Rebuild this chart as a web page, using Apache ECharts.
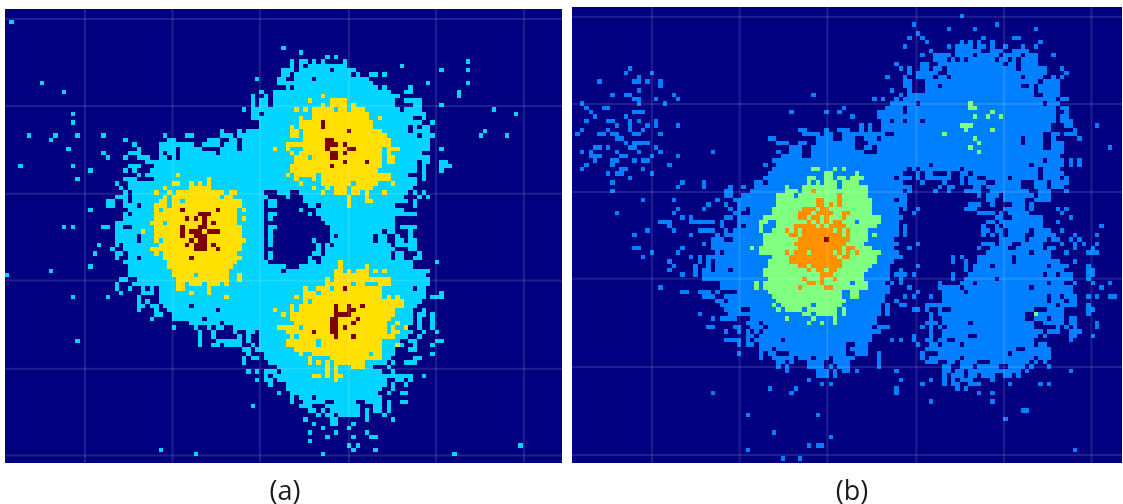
<!DOCTYPE html>
<html><head><meta charset="utf-8">
<script src="https://cdn.jsdelivr.net/npm/echarts@6/dist/echarts.min.js"></script>
<style>html,body{margin:0;padding:0;background:#fff}#c{width:1123px;height:504px}</style>
</head><body><div id="c"></div>
<script>
// Each entry: "row:col-col,col,..." – occupied cells of the 2-D histogram, per count level.
const captions = ['(a)', '(b)'];
const levelColors = { 1: '#0080FF', 2: '#00D4FF', 3: '#80FF80', 4: '#FFE000', 5: '#FF9000', 6: '#800000' };
const colsA = 127, rowsA = 104, colsB = 126, rowsB = 104;
const gridColsA = [18.24, 38.2, 58.1, 78.4, 98.3, 118.3];
const gridRowsA = [1.8, 21.7, 41.8, 61.7, 81.9, 101.8];
const gridColsB = [18.5, 38.6, 58.7, 79.1, 99.2, 119.2];
const gridRowsB = [2.7, 22.6, 42.7, 62.5, 82.6, 102.7];

const lowA = [
"2:1","8:63","9:67","10:73,75","11:65,67-68,70,72,77,105","12:65,67,69-77,90","13:63-65,67-73,75-79,99,105",
"14:63-64,66-78,80,83-84,86","15:57,62-63,66-69,71-82","16:8,62-83,96,105","17:64,66-84,86,92","18:13,58,61-87,91-92,103",
"19:56,59,61-89,103","20:56,58-59,61-88,91-94","21:56,58-59,61-88,93-94,99","22:54,56-60,61-89,91-94,111","23:15,56-57,59-95,116",
"24:56-92,95","25:15,58-94,97","26:58-91,93,95-96","27:49,53,55-91,93-96,109","28:5,11,16,22,36,41-42,49-51,53-93,95-97,108,114",
"29:10,27,37-38,46-48,51-52,54-96","30:29,35-42,45-48,50-52,54-96","31:14,30,35-38,40-44,49-52,54-96,99","32:22,28-30,35,37-38,40-47,49-94",
"33:23,27,30-32,35-36,38,40-96","34:32-93,95-96,99-100","35:3,15,28-30,34-93,95,99-101","36:19,27,29,33-93,95,99","37:30,32-91,95",
"38:16,27-29,34-93,95","39:25,28-93","40:26,28-92","41:27,29-58,62-64,67-91,93,95","42:25-27,29-59,64,68-90,94,96",
"43:23-24,27,29-58,60-61,68-91,93","44:23-24,27-29,31-58,60-61,69-70,72-88,93","45:19,28-58,67,71-90","46:27,29-58,60-61,69,71-93",
"47:27-58,60,72-88","48:25-58,73-88","49:13,15,22-23,25-26,29-58,60-61,74-88,90-93","50:25-58,60,74-85,87-88,92",
"51:25-29,31-58,60,74,76-83,85-86,89,92","52:25-29,31-58,60,70,74-83,85-86,89-90,92-93","53:21,25,27-58,60,71,73,75-87,89-93",
"54:24,27-58,71,73-88,92-93","55:20,25-26,28-58,60,70-71,73-87,89-90,94","56:25,28-29,31-58,60,69,72-87,89-90,93-94",
"57:27-59,69-70,72-92,98","58:19,28-63,67-92","59:10,28-62,64-96","60:0,28-95","61:26-27,30-96","62:25,29-96",
"63:25,28,31,33,35-92,94-95","64:26,31-33,35-95,99","65:15,23,30,35-95,97-99","66:30,32,35-94","67:30-31,33-34,36-41,43-93",
"68:30,34,37-47,49-92,95","69:34-35,38-92,94-95,97","70:33,38-44,46-92,94,97","71:42-48,50-92,94,97","72:38,43,46,48-49,52-91,94,97",
"73:44,47,52,55-56,58-92,95,98","74:44,47,53,55,58-91,94","75:16,44,48-53,55,58-89,92-93,98-99","76:44,47-48,50-53,56,58-90,93,97",
"77:54-55,57-88,92-93","78:55,59-88,97","79:54,56-57,59-87,93-94","80:54,60-86,88,91-93","81:62-83,87","82:55,57,59-61,63-85,88",
"83:59,61-92,95","84:57,59-60,62-86,89-90,92","85:60,64-86,88,91","86:64-85,88","87:62,65-84,87,90-91","88:65,67-69,71-85",
"89:65,68-72,75-79,82-85,87,90-91","90:56,67-69,73-80,84-85,87","91:69-70,72,74-80,82,84-85,87","92:71,73-74,76-80,82,86",
"93:68,74-75,82,88","94:70,74-75,79","95:72,78","96:69,75,82","97:73,79,83-84","98:69","99:78,80,117","100:35,79,84","101:43,72,102"
];
const lowALeftStrays = ["23:15","25:15","28:5","35:3","35:15","36:19","38:16","45:19","49:13","58:19","59:10","60:0","65:15","65:23","75:16"];
const midA = [
"19:72","20:69,74-77","21:72,74-77,79","22:66,68,70-74,76-77,79-81","23:70-82","24:67,70-82,85","25:67-83","26:65,67-83","27:65-66,68-85",
"28:65-66,68-86","29:68-87","30:64-87","31:61,64,68-85,87-89","32:65,67-85,87","33:66-68,70-85,87-88","34:66-85,87-88","35:65-85","36:65-84",
"37:39,64,66-70,72-87","38:46,66,70,72-87","39:38-39,42,44,46,67,72-78,80-84,88","40:36,42-46,70,73,75-77,79-83","41:34,37,39-49,51-52,72,75-77,79-80,82,86",
"42:36,38-48,50-51,78,82","43:35-36,38-39,41-53,78,82-83","44:34-36,38-53,78","45:34,36-52,54","46:34-52","47:34-52,54","48:33-35,37-52","49:34-53",
"50:31,34-53","51:34-53","52:34,36-54","53:35-53","54:33-53","55:34,36-52","56:36-53","57:37-52,76","58:37-51,76,82","59:38-50,75-76,78,80-82,84,86",
"60:38-42,44-50,53,75-82","61:39-50,53,73,75-87","62:39-40,42-44,46-48,50,46,73-78,80-81,85-87","63:39-40,46,68,71-73,75-85","64:42,46,68-70,72-85",
"65:50,66,68-85,87,89","66:68,70-90","67:65,67-90","68:61,65,67-88","69:63,65-88","70:65-87","71:66-86,89","72:62-66,68-86,88,91","73:64-86,88-89",
"74:65,67-86,87-88","75:64-70,72-85","76:64-70,72-85,89","77:66-85","78:67,70-82,84-85","79:69,74-85","80:69,71,73,75-81","81:73,75,79-81","82:73,75","83:70-71,73,75-76","84:75"
];
const highA = [
"25:72","26:72","27:78","29:73-74","30:73-75,77","31:73,78-79","32:74-75,77","33:74-75","34:77,82","35:74",
"45:40,48","46:44-46","47:41,43,45","48:45,47","49:40,44-45","50:40,42,43-44,46-48","51:40,43-45","52:42,44-45","53:41,43-45,47","54:43-45,48","56:42",
"63:77","67:75,78,81","68:75,78-79","69:75-78","70:74-75,80","71:74-75,79","72:74-75,77","73:70,74-75","74:75,79"
];

const lowB = [
"2:89","4:78,97","5:86,92,106","6:79","7:77,80,94,101-102","8:81,89,91,93,96,107","9:76,86,88-91,93-94,96,99,103,106","10:82,88-93,96-98,101-104",
"11:80,83-86,88-91,93-97,99-102,104-106,110","12:83-85,87,89,91-96,98-99,101,103-106","13:74,80-81,84-98,100-101,103-106","14:13,75,77,80-81,83-84,86-101,103-108,112",
"15:12,18,77,79-83,86-108,113","16:15,72,76,79-82,84-85,87-102,104-107,110,112","17:6,14-15,17,20,76-77,81-106,108-111","18:20,76-77,81-83,85-102,105,107-111",
"19:15,73,77,81-105,107-111","20:9,12-13,23,55,75,77-105,108-111","21:14-15,19,24,69,71,74,76-110,112-113","22:2,15,21,73-78,80-107,109-111",
"23:3,7-8,62,72-75,77-110,112-113","24:4,14-16,50,58,61,70-75,77-110,113","25:5,12,64,70-110,112-113","26:3,8-9,13,15,19,71-72,74-75,77-79,81-110,112-114",
"27:10,13,17,19,24,66,68,71-109,113-114,120","28:2,8,13,16,52-53,58,61-63,66,68,71-109,115","29:1,6-7,9-10,14-15,20,53-56,58-59,62-71,74-107,110-111,113-115",
"30:10-11,45-46,56-59,62-64,67-69,71-102,104-107,110,116","31:12,14-17,47-49,52-53,56-64,68-102,104-107,110-112","32:5-6,8,13-14,19,50-52,55-64,67-68,70-107,110-112,123",
"33:2,4,10,15,20,32,47,50-52,55-66,70-112","34:4-6,11-12,18,24,48-52,55-111","35:5,9-10,14,16-17,46-107,109-112,114,116","36:3,9,22,44,47-81,83-104,106-112,114,116",
"37:2,11-12,16,46-76,78,80-88,90-106,108-111","38:8,10-11,18,45-75,79,81-82,86,89-90,92-106,108-112","39:13,44-73,75-77,79,81-86,89,91-92,95-99,101-106,108-111,113",
"40:9,25,30,42-43,45-75,80,85,89,91-94,97-102,106-108,110-113","41:24,30,36,39,42-77,84,86-87,92-93,95-102,106-108,110-112","42:9,35-36,41-75,77,83,86,90-93,96-104,107-109,113",
"43:35-36,39-76,93,95-97,99-105,107-109","44:16,23,33,37-73,75-76,95-96,99-103,106-109","45:31,35,38-76,91-93,96,101-103,105","46:24,30,36,38-39,41-74,76,79,90-92,99-103,105,111,113",
"47:10,23,37-38,41-74,78,93-96,98,100-104,112","48:25,27,35-36,38-75,97-98,101-107,114","49:20-22,27-32,34,38-74,95-96,98-107,111","50:22,34,38,40-74,76,94,97,99-107,121",
"51:17,23,29-32,35,37-74,76,94-95,97-98,100-104,106-109,112","52:14,27,33,35-74,76,94,96,98,100-103,106-110,115,120","53:32-34,37-73,98-103,105-108,110-111,114,116",
"54:30,32-74,79,94-96,98-100,103-107,112,115,117,120","55:14-15,25,32-73,77,93,96-99,102-107,109-110,115,119","56:18,24,33,35-74,95-104,106-109,113,118-120",
"57:16,27,29,31-75,87,89,93-100,102-109","58:22,29,31,33-73,87,90,93-100,102-111,115","59:23,28,31,33-72,79,90,92-95,97-108,110-113,118",
"60:22,28,30-31,33-35,37-72,75,90,92-112,118-119","61:25,28,30-72,74-76,78,87,91-107,109-110,112-114,118-119","62:30-72,75,87,90-96,98-114,118",
"63:34-71,73,75,84,89-91,93-108,110-112,115,119,123","64:20,34-72,77,84-88,90-104,106-114,121","65:25-26,29-31,33,38-72,79,85-89,91-114","66:30-32,35-71,76,78,82,85-108,110-111,113-115,118,120,123-124",
"67:33-34,36-71,74,85-108,110-112,114-115","68:34-70,72,75-76,81-110,112-115,118","69:35-38,41-70,72,78-79,81,84,87-105,109-112,118-119","70:29,36-70,72,82,84-103,106-112,118",
"71:32,34-37,41-69,82,85-103,106-108,110-112,114-115","72:40-42,44-69,81-83,85-90,92-105,108-112,114-115,120","73:31-32,37-38,41-43,45-68,70-72,80,82,84,86-105,111,113,115,120",
"74:35,38,40,42,44-70,82,85-107,109-111,114-116","75:40-41,43-68,78,82,85-90,93-106,108,114-115,119","76:35-38,40,42-47,49-68,73,75,78,81-82,84-85,88-105,114",
"77:38,40-41,43-62,65-67,79,82-83,85-88,90-105,107-108","78:43-45,47-62,64-67,81-101,104-109","79:38,43,45-46,50-62,65-67,70,80,84-99,101-109","80:43,46-50,52-54,56-58,60-64,70,80,82-88,90-105,107-109",
"81:47-48,50,54-57,60-63,70,81-83,86-87,89-92,96-104,106,108","82:47,49,54-57,59,61-63,70,85-86,89-91,93-97,100-103,105,109","83:49,56-58,60,62-63,65,74,85-86,88-89,91-102,104,114",
"84:56-58,60,85,87-89,91-92,94-96,99-100,102","85:54,75,82,85,87,89-91,96","86:57,59,80,85,87-88,91-93,100,107,109","87:45,51,74,88,90","88:32,50,74,93,96","90:82,96","92:103-104","93:40,56","94:99","97:46","98:59","100:54,56-57","101:40,115","103:48,52"
];
const midB = [
"22:91","23:91-92","24:96","25:92,95,98","27:89-91","28:90,96","29:85","30:92","31:93","32:91","33:93","37:55-56,60,62","38:58-59,65","39:54-55,58-59,61-62,64-66","40:54,56,58-60,62-65",
"41:49,53-60,62-67","42:49-51,53-67","43:47-50,52-67","44:47-68","45:47-68","46:46-68","47:46-68","48:44-70","49:43-44,47-64,66-70","50:43,47-69","51:43,46-67","52:44-67,69","53:44-67","54:44-66",
"55:41,43-68","56:43-70","57:46-66,67-69","58:45-69","59:45-68","60:44-67","61:44-66","62:45-66","63:42,44-63,65-67","64:42,44-65,66-67","65:45-61,64-65","66:46-61,64-65","67:47-62","68:46,48-54,56-61",
"69:47,49-52,54-60,62","70:53-54,56-60,62,106","71:49,55,60","72:54,57,60"
];
const topB = [
"42:55","43:61","44:56-57,61","45:56-57,59,61","46:53-55,57-58","47:52-54,56-59,62-63","48:52-53,55-56,58,62","49:54,56,58,60-61","50:51-55,57,59-62","51:49,51,53-59,61,63","52:50-51,53-61,63",
"53:52-63","54:51-62","55:52-61,63-64","56:49,51-53,55-59,61,63,65","57:50-60,62-63","58:50-61","59:52-53,55-61","60:54,56-57,59-60","61:57-59","62:53,57,60","63:54-55,57","64:52,58-59"
];
const peakB = ["53:58"];

function fill(map, rows, level) {
  rows.forEach(function (entry) {
    const parts = entry.split(':');
    const r = +parts[0];
    parts[1].split(',').forEach(function (s) {
      const ab = s.split('-').map(Number);
      const to = ab.length > 1 ? ab[1] : ab[0];
      for (let c = ab[0]; c <= to; c++) map[r + '_' + c] = level;
    });
  });
}
function cellData(layers) {
  const map = {};
  layers.forEach(function (l) { fill(map, l[0], l[1]); });
  return Object.keys(map).map(function (k) {
    const p = k.split('_');
    return [+p[1], +p[0], map[k]];
  });
}
function renderCell(params, api) {
  const c = api.value(0), r = api.value(1);
  const a = api.coord([c, r]), b = api.coord([c + 1, r + 1]);
  const x0 = Math.round(a[0]), y0 = Math.round(a[1]);
  return {
    type: 'rect',
    shape: { x: x0, y: y0, width: Math.round(b[0]) - x0, height: Math.round(b[1]) - y0 },
    style: { fill: levelColors[api.value(2)] }
  };
}

const dataA = cellData([[lowA, 2], [lowALeftStrays, 2], [midA, 4], [highA, 6]]);
const dataB = cellData([[lowB, 1], [midB, 3], [topB, 5], [peakB, 6]]);

const panels = [
  { left: 5, top: 9, width: 557, height: 454, xMin: 0, xMax: colsA, yMin: -0.5, yMax: rowsA - 0.5, data: dataA, gc: gridColsA, gr: gridRowsA },
  { left: 572, top: 7, width: 550, height: 456, xMin: 0.2, xMax: colsB + 0.2, yMin: 0.5, yMax: rowsB + 0.5, data: dataB, gc: gridColsB, gr: gridRowsB }
];
const grid = [], xAxis = [], yAxis = [], series = [];
panels.forEach(function (p, i) {
  grid.push({ left: p.left, top: p.top, width: p.width, height: p.height, show: true, backgroundColor: '#000080', borderWidth: 0 });
  xAxis.push({ type: 'value', gridIndex: i, min: p.xMin, max: p.xMax, show: false, splitLine: { show: false } });
  yAxis.push({ type: 'value', gridIndex: i, min: p.yMin, max: p.yMax, inverse: true, show: false, splitLine: { show: false } });
  series.push({
    type: 'custom', name: captions[i], xAxisIndex: i, yAxisIndex: i, data: p.data, renderItem: renderCell,
    encode: { x: 0, y: 1 }, progressive: 0, animation: false, silent: true, clip: true, z: 2
  });
  const lineStyle = { color: 'rgba(255,255,255,0.12)', width: 2 };
  p.gc.forEach(function (c) {
    series.push({ type: 'line', xAxisIndex: i, yAxisIndex: i, data: [[c, p.yMin], [c, p.yMax]], symbol: 'none', lineStyle: lineStyle, silent: true, animation: false, z: 3 });
  });
  p.gr.forEach(function (r) {
    series.push({ type: 'line', xAxisIndex: i, yAxisIndex: i, data: [[p.xMin, r], [p.xMax, r]], symbol: 'none', lineStyle: lineStyle, silent: true, animation: false, z: 3 });
  });
});
const chart = echarts.init(document.getElementById('c'), null, { renderer: 'canvas' });
chart.setOption({
  animation: false,
  backgroundColor: '#ffffff',
  title: [
    { text: captions[0], left: 280, top: 474, textAlign: 'center', textStyle: { fontFamily: 'Open Sans', fontWeight: 'normal', fontSize: 27, color: '#1a1a1a' } },
    { text: captions[1], left: 847, top: 474, textAlign: 'center', textStyle: { fontFamily: 'Open Sans', fontWeight: 'normal', fontSize: 27, color: '#1a1a1a' } }
  ],
  tooltip: { show: false },
  grid: grid, xAxis: xAxis, yAxis: yAxis, series: series
});
</script></body></html>
